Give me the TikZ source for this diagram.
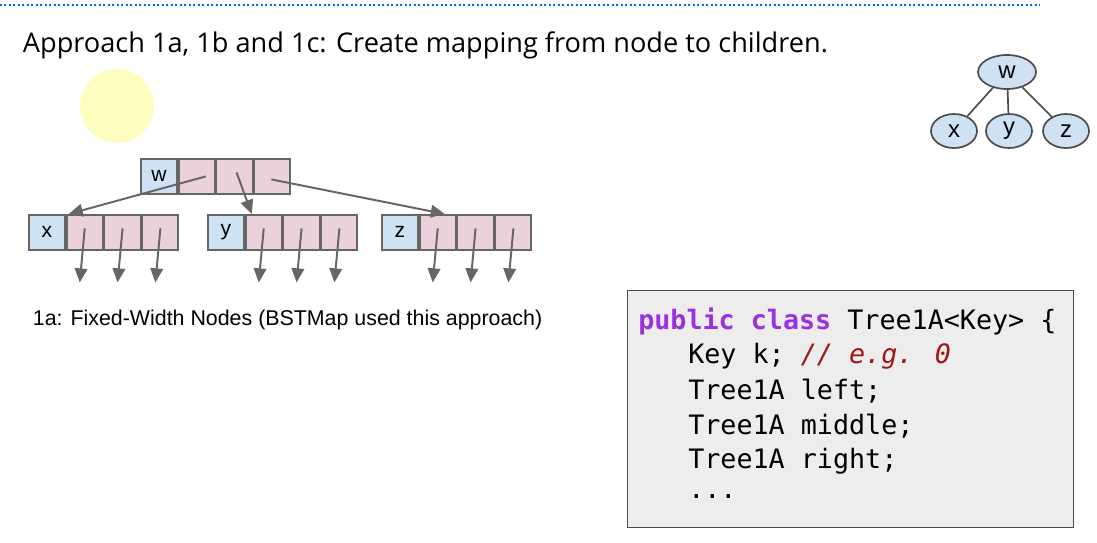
\documentclass[tikz,border=0pt]{standalone}
\usepackage{fontspec}
\setmainfont{Open Sans}
\newfontfamily\arialfont{Liberation Sans}
\newfontfamily\codefont{DejaVu Sans Mono}
\usetikzlibrary{positioning,arrows.meta,shapes.geometric}
\definecolor{keyblue}{HTML}{CFE2F3}
\definecolor{ptrpink}{HTML}{EAD1DC}
\definecolor{kwpurple}{HTML}{9B30E0}
\definecolor{cmtred}{HTML}{A31515}
\tikzset{
  cell/.style={draw=black!60, line width=1.3pt, minimum width=36*0.025cm, minimum height=35*0.025cm, inner sep=0pt, font=\arialfont\fontsize{15}{15}\selectfont},
  key/.style={cell, fill=keyblue},
  ptr/.style={cell, fill=ptrpink},
  link/.style={draw=black!60, line width=1.4pt, -{Triangle[length=10pt,width=9pt]}},
  tnode/.style={draw=black!70, line width=1.2pt, fill=keyblue, ellipse, minimum width=46*0.025cm, minimum height=34*0.025cm, inner sep=0pt, font=\arialfont\fontsize{17}{17}\selectfont}
}
\begin{document}
\begin{tikzpicture}[x=0.025cm, y=-0.025cm]
\useasboundingbox (0,0) rectangle (1097,542);
\draw[blue!60!cyan, line width=1.2pt, dotted] (0,5) -- (1040,5);
\node[anchor=west, font=\fontsize{19.3}{19.3}\selectfont] (title) at (18,45) {Approach 1a, 1b and 1c: Create mapping from node to children.};
\fill[yellow!25] (117,106) circle (37);

% array nodes
\node[key, anchor=north west] (w0) at (140,158) {w};
\node[ptr, right=0pt of w0] (w1) {};
\node[ptr, right=0pt of w1] (w2) {};
\node[ptr, right=0pt of w2] (w3) {};
\foreach \n/\l/\x in {x/x/28, y/y/207, z/z/381}{
  \node[key, anchor=north west] (\n0) at (\x,214) {\l};
  \node[ptr, right=0pt of \n0] (\n1) {};
  \node[ptr, right=0pt of \n1] (\n2) {};
  \node[ptr, right=0pt of \n2] (\n3) {};
  \foreach \i in {1,2,3}{
    \coordinate (\n\i e) at ([xshift=-5*0.025cm, yshift=-50*0.025cm]\n\i.center);
    \draw[link] ([yshift=4*0.025cm]\n\i.center) -- (\n\i e);
  }
}
\coordinate (xin) at ([xshift=-16*0.025cm]x1.north);
\coordinate (yin) at ([xshift=-12*0.025cm]y1.north);
\coordinate (zin) at ([xshift=7*0.025cm]z1.north);
\draw[link] ([xshift=9*0.025cm]w1.center) -- (xin);
\draw[link] ([xshift=2*0.025cm, yshift=4*0.025cm]w2.center) -- (yin);
\draw[link] ([xshift=-1*0.025cm, yshift=-3*0.025cm]w3.center) -- (zin);

\node[anchor=west, font=\arialfont\fontsize{15.2}{15.2}\selectfont] (cap) at (28,320) {1a: Fixed-Width Nodes (BSTMap used this approach)};

% small tree
\node[tnode, minimum width=58*0.025cm] (tw) at (1007,72) {w};
\node[tnode] (tx) at (954,131) {x};
\node[tnode] (ty) at (1009,131) {y};
\node[tnode] (tz) at (1066,131) {z};
\foreach \c in {tx,ty,tz} \draw[black!70, line width=1.2pt] (tw) -- (\c);

% code
\node[draw=black!70, fill=black!7, line width=0.9pt, minimum width=446*0.025cm, minimum height=237*0.025cm, anchor=north west] (code) at (627,290) {};
\begin{scope}[every node/.style={anchor=west, inner sep=0pt, font=\codefont\fontsize{19}{19}\selectfont}]
\node (l1) at (638,321) {\textcolor{kwpurple}{\bfseries public class} Tree1A<Key> \{};
\node (l2) at (688,356) {Key k; \textcolor{cmtred}{\itshape // e.g. 0}};
\node (l3) at (688,391) {Tree1A left;};
\node (l4) at (688,426) {Tree1A middle;};
\node (l5) at (688,461) {Tree1A right;};
\node (l6) at (688,496) {...};
\end{scope}
\end{tikzpicture}
\end{document}
